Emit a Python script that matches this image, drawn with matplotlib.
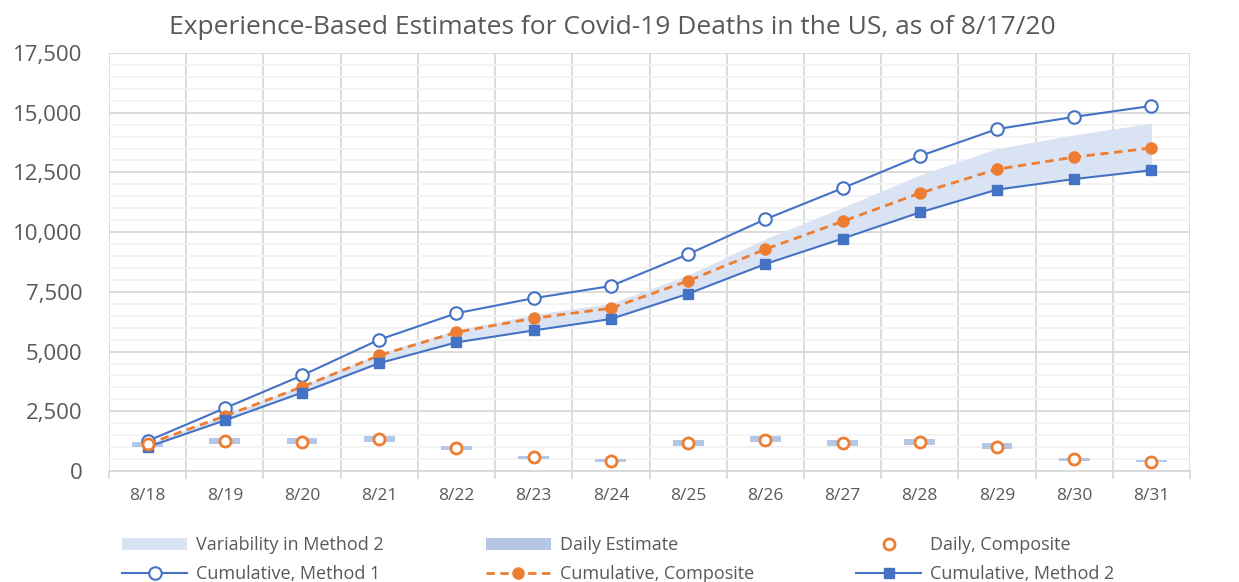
import matplotlib
matplotlib.use("Agg")
from matplotlib import pyplot as plt
from matplotlib.ticker import MultipleLocator, FixedLocator, FuncFormatter
import numpy as np

plt.rcParams['font.family'] = ['Open Sans', 'DejaVu Sans']

dates = ['8/18', '8/19', '8/20', '8/21', '8/22', '8/23', '8/24',
         '8/25', '8/26', '8/27', '8/28', '8/29', '8/30', '8/31']

# cumulative series
cum_method1 = [1256, 2630, 4000, 5500, 6605, 7235, 7744,
               9075, 10540, 11840, 13185, 14315, 14825, 15285]
cum_composite = [1130, 2300, 3525, 4840, 5810, 6395, 6815,
                 7960, 9285, 10450, 11630, 12635, 13140, 13525]
cum_method2 = [1005, 2120, 3280, 4515, 5385, 5885, 6363,
               7420, 8665, 9730, 10825, 11780, 12223, 12590]
variability_top = [1150, 2330, 3580, 4920, 5900, 6550, 7020,
                   8200, 9720, 11030, 12390, 13500, 14070, 14560]

# daily series
daily_low = [992, 1130, 1130, 1201, 879, 502, 389,
             1059, 1214, 1059, 1101, 934, 431, 364]
daily_high = [1226, 1369, 1369, 1465, 1059, 628, 502,
              1298, 1478, 1298, 1340, 1172, 532, 460]
daily_composite = [1130, 1243, 1226, 1327, 950, 573, 431,
                   1159, 1298, 1159, 1201, 1005, 490, 389]

blue = '#4472C4'
orange = '#ED7D31'
text_col = '#595959'

x = np.arange(len(dates))

fig = plt.figure(figsize=(12.39, 5.82), dpi=100)
ax = fig.add_axes([109 / 1239, 111 / 582, 1081 / 1239, 418 / 582])

band = ax.fill_between(x, cum_method2, variability_top, color='#DAE3F3', lw=0,
                       zorder=1)
bars = ax.bar(x, np.array(daily_high) - np.array(daily_low), bottom=daily_low,
              width=0.4, color='#B4C7E7', zorder=2)
daily_pts, = ax.plot(x, daily_composite, 'o', ms=8, mfc='white', mec=orange,
                     mew=2, zorder=4)
m1_line, = ax.plot(x, cum_method1, '-o', color=blue, lw=1.5, ms=9, mfc='white',
                   mec=blue, mew=1.5, zorder=3)
comp_line, = ax.plot(x, cum_composite, '--o', color=orange, lw=2, ms=8,
                     mec=orange, dashes=(3, 2), zorder=3)
m2_line, = ax.plot(x, cum_method2, '-s', color=blue, lw=1.5, ms=7.5, zorder=3)

ax.set_xlim(-0.5, len(dates) - 0.5)
ax.set_ylim(0, 17500)
ax.yaxis.set_major_locator(MultipleLocator(2500))
ax.yaxis.set_minor_locator(MultipleLocator(500))
ax.yaxis.set_major_formatter(FuncFormatter(lambda v, p: f'{int(v):,}'))
ax.set_xticks(x)
ax.set_xticklabels(dates)
ax.xaxis.set_minor_locator(FixedLocator(np.arange(-0.5, len(dates), 1.0)))

ax.grid(axis='y', which='major', color='#D9D9D9', lw=1.3, zorder=0)
ax.grid(axis='y', which='minor', color='#F2F2F2', lw=1.3, zorder=0)
ax.grid(axis='x', which='minor', color='#D9D9D9', lw=1.3, zorder=0)
ax.set_axisbelow(True)
for s in ax.spines.values():
    s.set_visible(False)
ax.spines['bottom'].set_visible(True)
ax.spines['bottom'].set_color('#D9D9D9')
ax.spines['bottom'].set_linewidth(1.3)

ax.tick_params(axis='y', which='both', length=0, pad=19, labelsize=16,
               labelcolor=text_col)
ax.tick_params(axis='x', which='major', length=0, pad=12, labelsize=12.5,
               labelcolor=text_col)
ax.tick_params(axis='x', which='minor', length=6, width=1.3, color='#D9D9D9')

fig.text(0.494, 0.953, 'Experience-Based Estimates for Covid-19 Deaths in the US, as of 8/17/20',
         ha='center', va='center', fontsize=19, color=text_col)

# legend fills column by column
handles = [band, m1_line, bars, comp_line, daily_pts, m2_line]
labels = ['Variability in Method 2', 'Cumulative, Method 1',
          'Daily Estimate', 'Cumulative, Composite',
          'Daily, Composite', 'Cumulative, Method 2']
leg = fig.legend(handles, labels, ncol=3,
                 loc='lower left', bbox_to_anchor=(106 / 1239, -0.03),
                 frameon=False, fontsize=13, labelcolor=text_col,
                 handlelength=3.6, handletextpad=0.5, columnspacing=5.65,
                 labelspacing=0.6)

fig.savefig('out.png', dpi=100)
